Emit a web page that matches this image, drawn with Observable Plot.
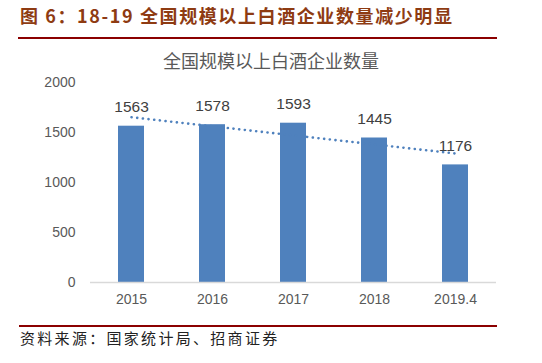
<!DOCTYPE html>
<html>
<head>
<meta charset="utf-8">
<script src="https://cdn.jsdelivr.net/npm/d3@7"></script>
<script src="https://cdn.jsdelivr.net/npm/@observablehq/plot@0.6"></script>
<style>
  html, body { margin: 0; padding: 0; background: #fff; }
  #wrap { position: relative; width: 542px; height: 363px; overflow: hidden; font-family: "Liberation Sans", Arial, sans-serif; }
  #title { position: absolute; left: 20px; top: 4px; font-family: "Noto Sans CJK SC", sans-serif; font-weight: bold; font-size: 18px; letter-spacing: 1.6px; color: #8E3B12; white-space: nowrap; line-height: 22px; }
  #rule1 { position: absolute; left: 18px; width: 479px; top: 37px; height: 2px; background: #8B0000; }
  #ctitle { position: absolute; left: 0; width: 542px; top: 48px; text-align: center; font-family: "Noto Sans CJK SC", sans-serif; font-size: 18px; color: #595959; line-height: 24px; }
  #chart { position: absolute; left: 0; top: 70px; }
  #rule2 { position: absolute; left: 19px; width: 478px; top: 325px; height: 2px; background: #8B0000; }
  #source { position: absolute; left: 20px; top: 327px; font-family: "Noto Sans CJK SC", sans-serif; font-size: 15px; letter-spacing: 2.3px; color: #222; line-height: 22px; white-space: nowrap; }
</style>
</head>
<body>
<div id="wrap">
  <div id="title">图 6：18-19 全国规模以上白酒企业数量减少明显</div>
  <div id="rule1"></div>
  <div id="ctitle">全国规模以上白酒企业数量</div>
  <div id="chart"></div>
  <div id="rule2"></div>
  <div id="source">资料来源：国家统计局、招商证券</div>
</div>
<script>
const years = ["2015", "2016", "2017", "2018", "2019.4"];
const counts = [1563, 1578, 1593, 1445, 1176];
const yTicks = [0, 500, 1000, 1500, 2000];

const data = years.map((year, i) => ({year, count: counts[i], i}));

// linear trend line (least squares over category index), as in the Excel trendline
const mx = d3.mean(data, d => d.i);
const my = d3.mean(data, d => d.count);
const slope = d3.sum(data, d => (d.i - mx) * (d.count - my)) / d3.sum(data, d => (d.i - mx) ** 2);
const trend = data.map(d => ({year: d.year, value: my + slope * (d.i - mx)}));

const blue = "#4F81BD";

const chart = Plot.plot({
  width: 542,
  height: 242,
  marginLeft: 90,
  marginRight: 46,
  marginTop: 12,
  marginBottom: 30,
  style: {fontFamily: "'Liberation Sans', Arial, sans-serif", fontSize: "14px", color: "#595959", background: "transparent"},
  x: {domain: years, paddingInner: 0.685, paddingOuter: 0.3425, label: null, tickSize: 0, tickPadding: 12},
  y: {domain: [0, 2000], ticks: yTicks, tickFormat: d => String(d), label: null, tickSize: 0, tickPadding: 15},
  marks: [
    Plot.barY(data, {x: "year", y: "count", fill: blue}),
    Plot.ruleY([0], {stroke: "#D9D9D9", strokeWidth: 1.5}),
    Plot.line(trend, {x: "year", y: "value", stroke: blue, strokeWidth: 2.6, strokeDasharray: "0.1,5.6", strokeLinecap: "round"}),
    Plot.text(data, {x: "year", y: "count", text: d => String(d.count), dy: -19, fontSize: 15.5, fill: "#404040"})
  ]
});
document.getElementById("chart").appendChild(chart);
</script>
</body>
</html>
